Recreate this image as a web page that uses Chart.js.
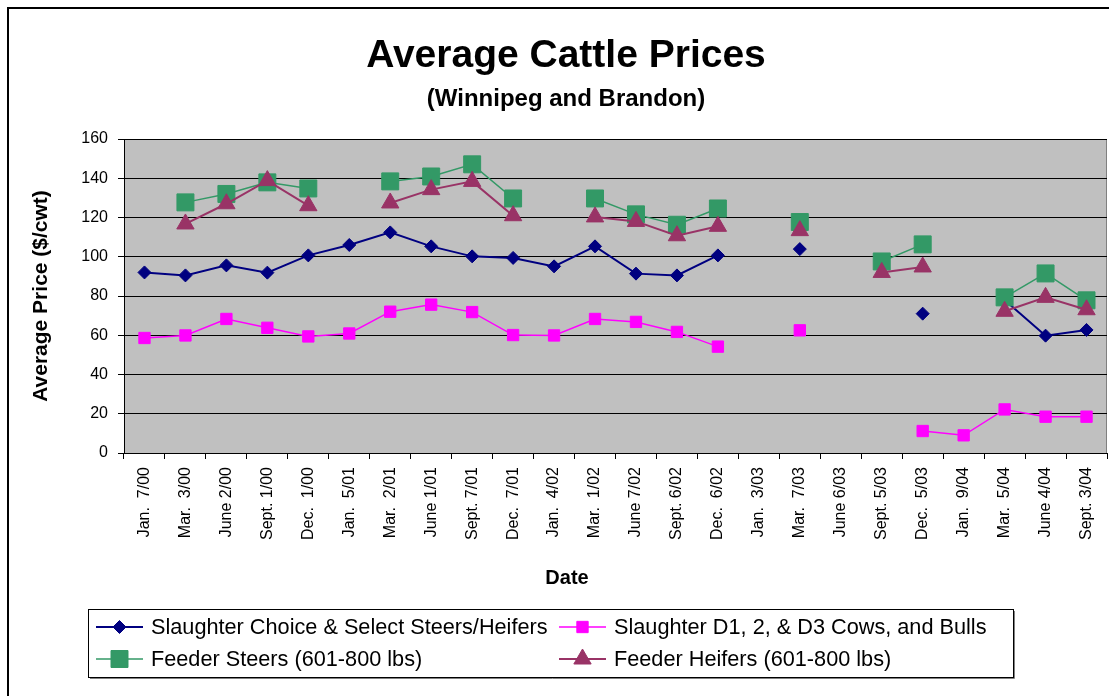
<!DOCTYPE html>
<html>
<head>
<meta charset="utf-8">
<script src="https://cdn.jsdelivr.net/npm/chart.js@4/dist/chart.umd.min.js"></script>
<style>
  html, body { margin: 0; padding: 0; background: #fff; }
  canvas { display: block; }
</style>
</head>
<body>
<canvas id="cattleChart" width="1109" height="696"></canvas>
<script>
// tick labels along the date axis
const dates = [
  "Jan.  7/00", "Mar.  3/00", "June 2/00", "Sept. 1/00", "Dec.  1/00",
  "Jan.  5/01", "Mar.  2/01", "June 1/01", "Sept. 7/01", "Dec.  7/01",
  "Jan.  4/02", "Mar.  1/02", "June 7/02", "Sept. 6/02", "Dec.  6/02",
  "Jan.  3/03", "Mar.  7/03", "June 6/03", "Sept. 5/03", "Dec.  5/03",
  "Jan.  9/04", "Mar.  5/04", "June 4/04", "Sept. 3/04"
];

// $/cwt, null where no price was reported
const slaughterSteers = [92.0, 90.5, 95.6, 91.9, 100.7, 106.0, 112.4, 105.3, 100.2, 99.4, 95.1, 105.3,
  91.4, 90.5, 100.7, null, 103.9, null, null, 71.0, null, 78.0, 59.8, 62.7];
const slaughterCows = [58.6, 59.9, 68.3, 63.8, 59.4, 60.9, 72.0, 75.6, 71.8, 60.1, 59.9, 68.3,
  66.8, 61.7, 54.2, null, 62.5, null, null, 11.2, 9.0, 22.2, 18.5, 18.5];
const feederSteers = [null, 127.7, 132.0, 137.9, 134.8, null, 138.4, 140.9, 147.1, 129.7, null, 129.7,
  121.6, 116.3, 124.6, null, 117.7, null, 97.6, 106.3, null, 79.3, 91.5, 77.8];
const feederHeifers = [null, 116.7, 127.0, 138.8, 126.0, null, 127.4, 134.2, 138.4, 120.9, null, 120.3,
  118.0, 110.7, 115.5, null, 113.3, null, 92.0, 94.8, null, 72.2, 79.3, 73.0];

const yTicks = { min: 0, max: 160, step: 20 };

const FONT = "'Liberation Sans', Arial, sans-serif";
Chart.defaults.font.family = FONT;
Chart.defaults.color = '#000';

const series = [
  { label: 'Slaughter Choice & Select Steers/Heifers', data: slaughterSteers, color: '#000080', style: 'rectRot', radius: 6.5, width: 2, order: 3 },
  { label: 'Slaughter D1, 2, & D3 Cows, and Bulls', data: slaughterCows, color: '#FF00FF', style: 'rect', radius: 8, width: 1.5, order: 2 },
  { label: 'Feeder Steers (601-800 lbs)', data: feederSteers, color: '#339966', style: 'rect', radius: 12, width: 1.5, order: 1 },
  { label: 'Feeder Heifers (601-800 lbs)', data: feederHeifers, color: '#993366', style: 'triangle', radius: 10, width: 2, order: 0 }
];

const plotFrame = {
  id: 'plotFrame',
  beforeDraw(chart) {
    const { ctx, chartArea: a } = chart;
    ctx.save();
    ctx.fillStyle = '#fff';
    ctx.fillRect(0, 0, chart.width, chart.height);
    // outer chart border
    ctx.strokeStyle = '#000';
    ctx.lineWidth = 2;
    ctx.strokeRect(8, 8, chart.width + 50, chart.height + 50);
    ctx.fillStyle = '#C0C0C0';
    ctx.fillRect(a.left, a.top, a.right - a.left, a.bottom - a.top);
    ctx.strokeStyle = '#808080';
    ctx.lineWidth = 1;
    ctx.beginPath();
    ctx.moveTo(a.left, a.top + 0.5);
    ctx.lineTo(a.right - 0.5, a.top + 0.5);
    ctx.lineTo(a.right - 0.5, a.bottom);
    ctx.stroke();
    ctx.restore();
  },
  afterDraw(chart) {
    const { ctx } = chart;
    ctx.save();
    // titles, centred on the whole chart like the original
    ctx.fillStyle = '#000';
    ctx.textAlign = 'center';
    ctx.textBaseline = 'alphabetic';
    ctx.font = 'bold 39px ' + FONT;
    ctx.fillText('Average Cattle Prices', 566, 67);
    ctx.font = 'bold 24px ' + FONT;
    ctx.fillText('(Winnipeg and Brandon)', 566, 106);
    ctx.font = 'bold 20px ' + FONT;
    ctx.textBaseline = 'middle';
    ctx.fillText('Date', 567, 578);

    // legend box
    ctx.strokeStyle = '#808080';
    ctx.lineWidth = 1;
    ctx.beginPath();
    ctx.moveTo(90, 678.5); ctx.lineTo(1014.5, 678.5); ctx.lineTo(1014.5, 611);
    ctx.stroke();
    ctx.strokeStyle = '#000';
    ctx.strokeRect(88.5, 609.5, 925, 68);
    const cols = [96, 559];
    const rows = [627, 659];
    ctx.font = '21.7px ' + FONT;
    ctx.textBaseline = 'middle';
    ctx.textAlign = 'left';
    series.forEach((s, i) => {
      const x = cols[i % 2];
      const y = rows[Math.floor(i / 2)];
      ctx.strokeStyle = s.color;
      ctx.fillStyle = s.color;
      ctx.lineWidth = s.width;
      ctx.beginPath();
      ctx.moveTo(x, y); ctx.lineTo(x + 47, y);
      ctx.stroke();
      ctx.lineWidth = 1;
      Chart.helpers.drawPoint(ctx, { pointStyle: s.style, radius: s.radius, rotation: 0, borderWidth: 1 }, x + 23.5, y);
      ctx.fillStyle = '#000';
      ctx.fillText(s.label, x + 55, y + 1);
    });
    ctx.restore();
  }
};

new Chart(document.getElementById('cattleChart'), {
  type: 'line',
  data: {
    labels: dates,
    datasets: series.map(s => ({
      label: s.label,
      data: s.data,
      borderColor: s.color,
      backgroundColor: s.color,
      borderWidth: s.width,
      pointStyle: s.style,
      pointRadius: s.radius,
      pointBackgroundColor: s.color,
      pointBorderColor: s.color,
      pointBorderWidth: 1,
      tension: 0,
      spanGaps: false,
      fill: false,
      clip: false,
      order: s.order
    }))
  },
  options: {
    responsive: false,
    animation: false,
    layout: { autoPadding: false, padding: { left: 10, right: 2, top: 139, bottom: 103 } },
    plugins: {
      legend: { display: false },
      tooltip: { enabled: false }
    },
    scales: {
      x: {
        offset: true,
        grid: { offset: true, drawOnChartArea: false, color: '#000', tickLength: 6 },
        border: { color: '#000' },
        ticks: { minRotation: 90, maxRotation: 90, autoSkip: false, font: { size: 16 }, padding: 8 },
        afterFit(scale) {
          scale.height = 140;
          scale.paddingLeft = 0;
          scale.paddingRight = 0;
        }
      },
      y: {
        min: yTicks.min,
        max: yTicks.max,
        ticks: { stepSize: yTicks.step, font: { size: 16 }, padding: 10 },
        grid: { color: '#000', tickLength: 6 },
        border: { color: '#000' },
        title: { display: true, text: 'Average Price ($/cwt)', font: { size: 21, weight: 'bold' }, padding: { top: 19, bottom: 0 } },
        afterFit(scale) { scale.width = 114; }
      }
    }
  },
  plugins: [plotFrame]
});
</script>
</body>
</html>
